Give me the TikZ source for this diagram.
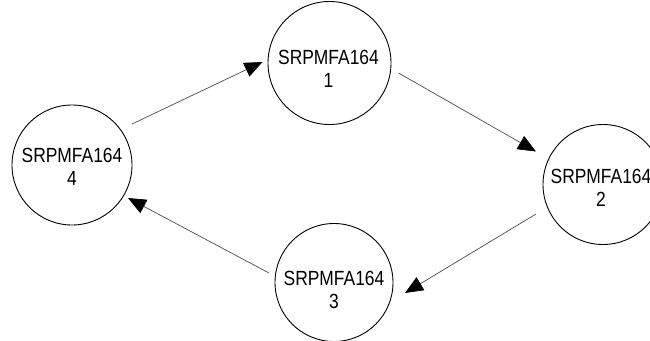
\documentclass[tikz,border=0pt]{standalone}
\usepackage{fontspec}
\setmainfont[FakeStretch=0.85]{Liberation Sans}
\usetikzlibrary{arrows.meta,calc}
\begin{document}
\begin{tikzpicture}[x=1pt,y=-1pt,
  circ/.style={draw=black,line width=0.9pt,circle,minimum size=120pt,inner sep=0pt},
  lbl/.style={align=center,font=\fontsize{20.5pt}{23pt}\selectfont,inner sep=0pt},
  conn/.style={draw=black!70,line width=0.7pt,-{Triangle[length=18pt,width=15pt,color=black]}}]
\useasboundingbox (0,0) rectangle (650,340);
\clip (0,0) rectangle (650,340);
\node[circ,minimum size=123pt] (c1) at (329.5,63) {};
\node[circ] (c2) at (603,184.5) {};
\node[circ,minimum size=118pt] (c3) at (334,282.5) {};
\node[circ] (c4) at (72,165) {};
\node[lbl] (t1) at ($(c1)+(-1,6)$) {SRPMFA164\\1};
\node[lbl] (t2) at ($(c2)+(-2,3)$) {SRPMFA164\\2};
\node[lbl] (t3) at ($(c3)+(0,7)$) {SRPMFA164\\3};
\node[lbl] (t4) at ($(c4)+(0,2)$) {SRPMFA164\\4};
\draw[conn] ($(c4)+(60,-41)$) -- ($(c1)+(-67,-1)$);
\draw[conn] ($(c1)+(69,10)$) -- ($(c2)+(-67,-33)$);
\draw[conn] ($(c2)+(-67,29.5)$) -- ($(c3)+(71,10.5)$);
\draw[conn] ($(c3)+(-65,-9.5)$) -- ($(c4)+(56,33)$);
\end{tikzpicture}
\end{document}
